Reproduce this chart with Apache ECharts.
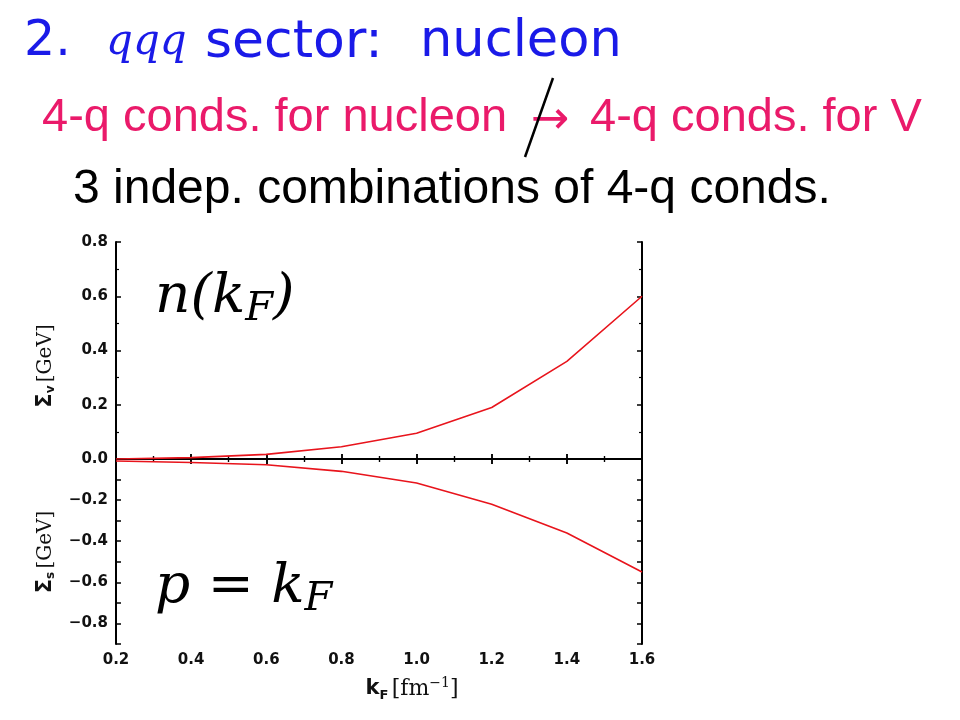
<!DOCTYPE html>
<html><head><meta charset="utf-8">
<script src="https://cdn.jsdelivr.net/npm/echarts@6/dist/echarts.min.js"></script>
<style>html,body{margin:0;padding:0;background:#fff}#c{width:960px;height:720px}</style>
</head><body><div id="c"></div>
<script>
var kF = [0.2, 0.4, 0.6, 0.8, 1.0, 1.2, 1.4, 1.6];
var sigmaV = [0.0, 0.005, 0.017, 0.045, 0.095, 0.19, 0.36, 0.60];
var sigmaS = [-0.01, -0.017, -0.028, -0.06, -0.117, -0.22, -0.36, -0.55];
var xTicks = ['0.2','0.4','0.6','0.8','1.0','1.2','1.4','1.6'];
var yTopTicks = ['0.0','0.2','0.4','0.6','0.8'];
var yBotTicks = ['\u22120.2','\u22120.4','\u22120.6','\u22120.8'];

function pairs(xs, ys){ return xs.map(function(x,i){return [x, ys[i]];}); }

var lbl = {fontFamily:'DejaVu Sans', fontWeight:'bold', fontSize:15, color:'#111'};
var axLine = {show:true, lineStyle:{color:'#000', width:2}};
function tick(){ return {show:true, inside:true, length:5, lineStyle:{color:'#000', width:1.5}}; }
function minor(){ return {show:true, splitNumber:2, length:3, lineStyle:{color:'#000', width:1.2}}; }
var nameRich = {
  g:{fontFamily:'DejaVu Sans', fontWeight:'bold', fontSize:21, fill:'#111'},
  s:{fontFamily:'DejaVu Sans', fontWeight:'bold', fontSize:12, fill:'#111', verticalAlign:'bottom', padding:[9,0,0,0]},
  u:{fontFamily:'DejaVu Serif', fontSize:20, fill:'#111'},
  e:{fontFamily:'DejaVu Serif', fontSize:13, fill:'#111', verticalAlign:'top', padding:[0,0,11,0]}};
var xNameRich = {
  g:{fontFamily:'DejaVu Sans', fontWeight:'bold', fontSize:21, fill:'#111'},
  s:{fontFamily:'DejaVu Sans', fontWeight:'bold', fontSize:13, fill:'#111', verticalAlign:'bottom', padding:[9,0,0,0]},
  u:{fontFamily:'DejaVu Serif', fontSize:22, fill:'#111'},
  e:{fontFamily:'DejaVu Serif', fontSize:14, fill:'#111', verticalAlign:'top', padding:[0,0,12,0]}};

var chart = echarts.init(document.getElementById('c'));
var redLine = {color:'#e8141c', width:1.6};
var mathM = {fontFamily:'DejaVu Serif', fontStyle:'italic', fontSize:55, fill:'#000'};
var mathS = {fontFamily:'DejaVu Serif', fontStyle:'italic', fontSize:40, fill:'#000', verticalAlign:'bottom', padding:[24,0,0,0]};
chart.setOption({
  animation:false,
  backgroundColor:'#fff',
  grid:[
    {left:116, top:242, width:526, height:217, show:false},
    {left:116, top:459, width:526, height:185, show:false}
  ],
  xAxis:[
    {gridIndex:0, type:'value', min:0.2, max:1.6, interval:0.2, position:'bottom', axisLine:axLine, axisTick:tick(), minorTick:minor(), axisLabel:{show:false}, splitLine:{show:false}},
    {gridIndex:0, type:'value', min:0.2, max:1.6, interval:0.2, position:'top', axisLine:axLine, axisTick:tick(), minorTick:minor(), axisLabel:{show:false}, splitLine:{show:false}},
    {gridIndex:1, type:'value', min:0.2, max:1.6, interval:0.2, position:'bottom', axisLine:axLine, axisTick:tick(), minorTick:minor(),
      axisLabel:Object.assign({margin:9, formatter:function(v){var i=Math.round((v-0.2)/0.2); return xTicks[i]||'';}}, lbl), splitLine:{show:false}},
    {gridIndex:1, type:'value', min:0.2, max:1.6, interval:0.2, position:'top', axisLine:{show:false}, axisTick:tick(), minorTick:minor(), axisLabel:{show:false}, splitLine:{show:false}}
  ],
  yAxis:[
    {gridIndex:0, type:'value', min:0, max:0.8, interval:0.2, position:'left', axisLine:axLine, axisTick:tick(), minorTick:minor(),
      axisLabel:Object.assign({margin:8, formatter:function(v){var i=Math.round(v/0.2); return yTopTicks[i]||'';}}, lbl), splitLine:{show:false}},
    {gridIndex:0, type:'value', min:0, max:0.8, interval:0.2, position:'right', axisLine:axLine, axisTick:tick(), minorTick:minor(), axisLabel:{show:false}, splitLine:{show:false}},
    {gridIndex:1, type:'value', min:-0.9, max:0, interval:0.1, position:'left', axisLine:axLine, axisTick:tick(),
      axisLabel:Object.assign({margin:8, formatter:function(v){var r=Math.round(v*10); if(r>=0||r%2!==0) return ''; return yBotTicks[(-r)/2-1]||'';}}, lbl), splitLine:{show:false}},
    {gridIndex:1, type:'value', min:-0.9, max:0, interval:0.1, position:'right', axisLine:axLine, axisTick:tick(), axisLabel:{show:false}, splitLine:{show:false}}
  ],
  series:[
    {type:'line', xAxisIndex:0, yAxisIndex:0, data:pairs(kF, sigmaV), showSymbol:false, symbol:'none', lineStyle:redLine, z:5},
    {type:'line', xAxisIndex:2, yAxisIndex:2, data:pairs(kF, sigmaS), showSymbol:false, symbol:'none', lineStyle:redLine, z:5}
  ],
  graphic:[
    {type:'text', left:24, top:18, style:{text:'2.', fontFamily:'DejaVu Sans', fontSize:49, fill:'#1a1ae8'}},
    {type:'text', left:106, top:22, style:{text:'qqq', fontFamily:'DejaVu Serif', fontStyle:'italic', fontSize:42, fill:'#1a1ae8'}},
    {type:'text', left:205, top:17, style:{text:'sector:', fontFamily:'DejaVu Sans', fontSize:52, fill:'#1a1ae8'}},
    {type:'text', left:420, top:17, style:{text:'nucleon', fontFamily:'DejaVu Sans', fontSize:51, fill:'#1a1ae8'}},
    {type:'text', left:42, top:95, style:{text:'4-q conds. for nucleon', fontFamily:'Liberation Sans', fontSize:47, fill:'#ea1a6a'}},
    {type:'text', left:531, top:98, style:{text:'\u2192', fontFamily:'DejaVu Sans', fontSize:46, fill:'#ea1a6a'}},
    {type:'text', left:590, top:95, style:{text:'4-q conds. for V', fontFamily:'Liberation Sans', fontSize:47, fill:'#ea1a6a'}},
    {type:'line', shape:{x1:553, y1:78, x2:525, y2:157}, style:{stroke:'#000', lineWidth:2.5}},
    {type:'text', left:73, top:166, style:{text:'3 indep. combinations of 4-q conds.', fontFamily:'Liberation Sans', fontSize:48, fill:'#000'}},
    {type:'text', left:155, top:270, style:{text:'{m|n(k}{s|F}{m|)}', rich:{m:mathM, s:mathS}}},
    {type:'text', left:155, top:560, style:{text:'{m|p}{m| = }{m|k}{s|F}', rich:{m:mathM, s:mathS}}},
    {type:'text', x:46, y:366, rotation:Math.PI/2, style:{text:'{g|\u03A3}{s|v} {u|[GeV]}', rich:nameRich, align:'center', verticalAlign:'middle'}},
    {type:'text', x:46, y:552, rotation:Math.PI/2, style:{text:'{g|\u03A3}{s|s} {u|[GeV]}', rich:nameRich, align:'center', verticalAlign:'middle'}},
    {type:'text', x:412, y:689, style:{text:'{g|k}{s|F} {u|[fm}{e|\u22121}{u|]}', rich:xNameRich, align:'center', verticalAlign:'middle'}}
  ]
});
</script></body></html>
